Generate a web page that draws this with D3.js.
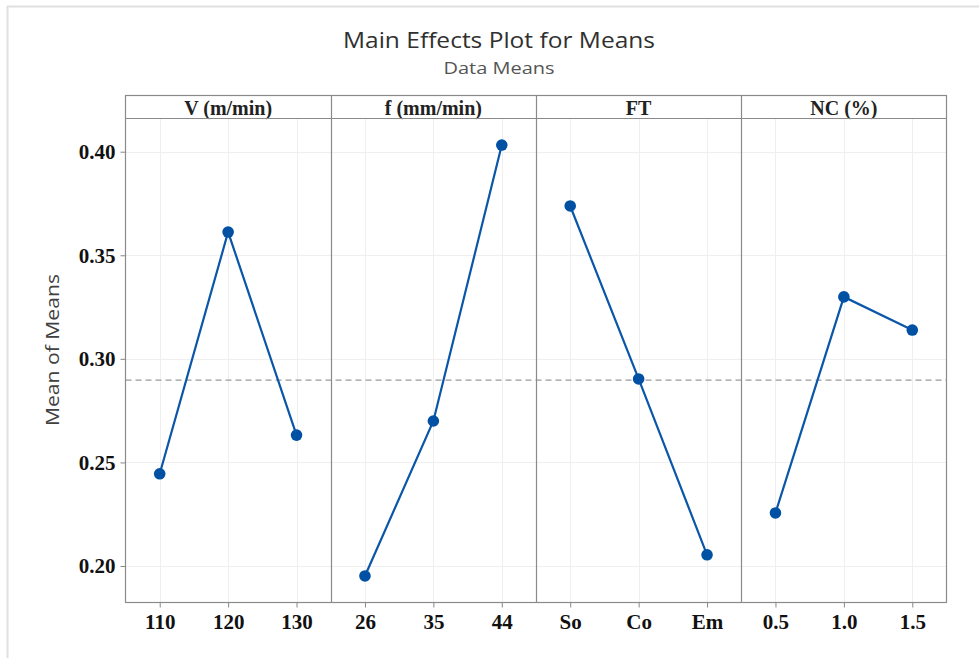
<!DOCTYPE html>
<html>
<head>
<meta charset="utf-8">
<script src="https://cdn.jsdelivr.net/npm/d3@7"></script>
<style>
  html, body { margin: 0; padding: 0; background: #fff; }
  svg { display: block; }
</style>
</head>
<body>
<svg id="chart" width="979" height="658"></svg>
<script>
// Factors and their levels
const factors = ["V (m/min)", "f (mm/min)", "FT", "NC (%)"];
const levelsV = ["110", "120", "130"];
const levelsF = ["26", "35", "44"];
const levelsFT = ["So", "Co", "Em"];
const levelsNC = ["0.5", "1.0", "1.5"];

// Mean of means at each level
const meansV = [0.2445, 0.3612, 0.2632];
const meansF = [0.1952, 0.2700, 0.4032];
const meansFT = [0.3738, 0.2903, 0.2054];
const meansNC = [0.2256, 0.3299, 0.3139];

const grandMean = 0.2897;
const yTicks = [0.20, 0.25, 0.30, 0.35, 0.40];

const panels = [
  { name: factors[0], levels: levelsV, values: meansV },
  { name: factors[1], levels: levelsF, values: meansF },
  { name: factors[2], levels: levelsFT, values: meansFT },
  { name: factors[3], levels: levelsNC, values: meansNC }
];

const svg = d3.select("#chart");
const W = 979, H = 658;

// frame lines
svg.append("line").attr("x1", 7.5).attr("x2", 7.5).attr("y1", 6).attr("y2", H)
  .attr("stroke", "#e0e0e0").attr("stroke-width", 2);
svg.append("line").attr("x1", 7).attr("x2", W).attr("y1", 6.5).attr("y2", 6.5)
  .attr("stroke", "#e0e0e0").attr("stroke-width", 2);

const plotL = 125.5, plotR = 946.5, stripTop = 95.5, stripBot = 118.5, plotB = 602.5;
const blue = "#0a56a8";
const serif = "'Liberation Serif', 'Times New Roman', serif";
const sans = "'Open Sans', 'Noto Sans', sans-serif";

// title
svg.append("text").attr("x", 499).attr("y", 48).attr("text-anchor", "middle")
  .attr("font-family", sans).attr("font-size", 21).attr("fill", "#303030")
  .attr("textLength", 312).attr("lengthAdjust", "spacingAndGlyphs")
  .text("Main Effects Plot for Means");
svg.append("text").attr("x", 499).attr("y", 74).attr("text-anchor", "middle")
  .attr("font-family", sans).attr("font-size", 16).attr("fill", "#555")
  .attr("textLength", 111).attr("lengthAdjust", "spacingAndGlyphs")
  .text("Data Means");

// y scale
const y = d3.scaleLinear().domain([0.20, 0.40]).range([566, 151.7]);

// y-axis title
svg.append("text")
  .attr("transform", `translate(59,${350}) rotate(-90)`)
  .attr("text-anchor", "middle")
  .attr("font-family", sans).attr("font-size", 17.5).attr("fill", "#404040")
  .attr("textLength", 152).attr("lengthAdjust", "spacingAndGlyphs")
  .text("Mean of Means");

const panelScale = d3.scaleBand().domain(factors).range([plotL, plotR]).padding(0);
const pw = panelScale.bandwidth();

// horizontal grid lines across plot
svg.append("g").selectAll("line").data(yTicks).join("line")
  .attr("x1", plotL).attr("x2", plotR)
  .attr("y1", d => Math.round(y(d)) + 0.5).attr("y2", d => Math.round(y(d)) + 0.5)
  .attr("stroke", "#efefef").attr("stroke-width", 1);

const line = d3.line();

panels.forEach(p => {
  const x0 = panelScale(p.name);
  const x = d3.scalePoint().domain(p.levels).range([x0, x0 + pw]).padding(0.5);
  const g = svg.append("g");

  // vertical grid lines
  g.selectAll("line.vg").data(p.levels).join("line")
    .attr("x1", d => Math.round(x(d)) + 0.5).attr("x2", d => Math.round(x(d)) + 0.5)
    .attr("y1", stripBot).attr("y2", plotB)
    .attr("stroke", "#efefef");

  // x axis ticks and labels
  const ax = d3.axisBottom(x).tickSize(5).tickPadding(5);
  const axg = svg.append("g").attr("transform", `translate(0,${plotB})`).call(ax);
  axg.select(".domain").remove();
  axg.selectAll("line").attr("stroke", "#888");
  axg.selectAll("text").attr("font-family", serif).attr("font-weight", "bold")
    .attr("font-size", 21).attr("fill", "#111").attr("dy", "0.8em");

  // strip label
  svg.append("text").attr("x", x0 + pw / 2).attr("y", 114.5)
    .attr("text-anchor", "middle").attr("font-family", serif).attr("font-weight", "bold")
    .attr("font-size", 20).attr("fill", "#222").text(p.name);

  p._x = x;
});

// grand-mean reference line
svg.append("line").attr("x1", plotL).attr("x2", plotR)
  .attr("y1", y(grandMean)).attr("y2", y(grandMean))
  .attr("stroke", "#9a9a9a").attr("stroke-width", 1.3).attr("stroke-dasharray", "6,4");

// series lines and markers
panels.forEach(p => {
  const pts = p.levels.map((l, i) => [p._x(l), y(p.values[i])]);
  svg.append("path").attr("d", line(pts)).attr("fill", "none")
    .attr("stroke", blue).attr("stroke-width", 2.2);
  svg.append("g").selectAll("circle").data(pts).join("circle")
    .attr("cx", d => d[0]).attr("cy", d => d[1]).attr("r", 5.8).attr("fill", "#0050a4");
});

// panel borders and strip
svg.append("rect").attr("x", plotL).attr("y", stripTop).attr("width", plotR - plotL)
  .attr("height", plotB - stripTop).attr("fill", "none").attr("stroke", "#8a8a8a").attr("stroke-width", 1.2);
svg.append("line").attr("x1", plotL).attr("x2", plotR).attr("y1", stripBot).attr("y2", stripBot)
  .attr("stroke", "#8a8a8a").attr("stroke-width", 1.2);
factors.slice(1).forEach(f => {
  const xx = Math.round(panelScale(f)) + 0.5;
  svg.append("line").attr("x1", xx).attr("x2", xx).attr("y1", stripTop).attr("y2", plotB)
    .attr("stroke", "#8a8a8a").attr("stroke-width", 1.2);
});

// y axis
const yax = d3.axisLeft(y).tickValues(yTicks).tickFormat(d3.format(".2f")).tickSize(5).tickPadding(5);
const yg = svg.append("g").attr("transform", `translate(${plotL},0)`).call(yax);
yg.select(".domain").remove();
yg.selectAll("line").attr("stroke", "#888");
yg.selectAll("text").attr("font-family", serif).attr("font-weight", "bold")
  .attr("font-size", 21).attr("fill", "#111");
</script>
</body>
</html>
